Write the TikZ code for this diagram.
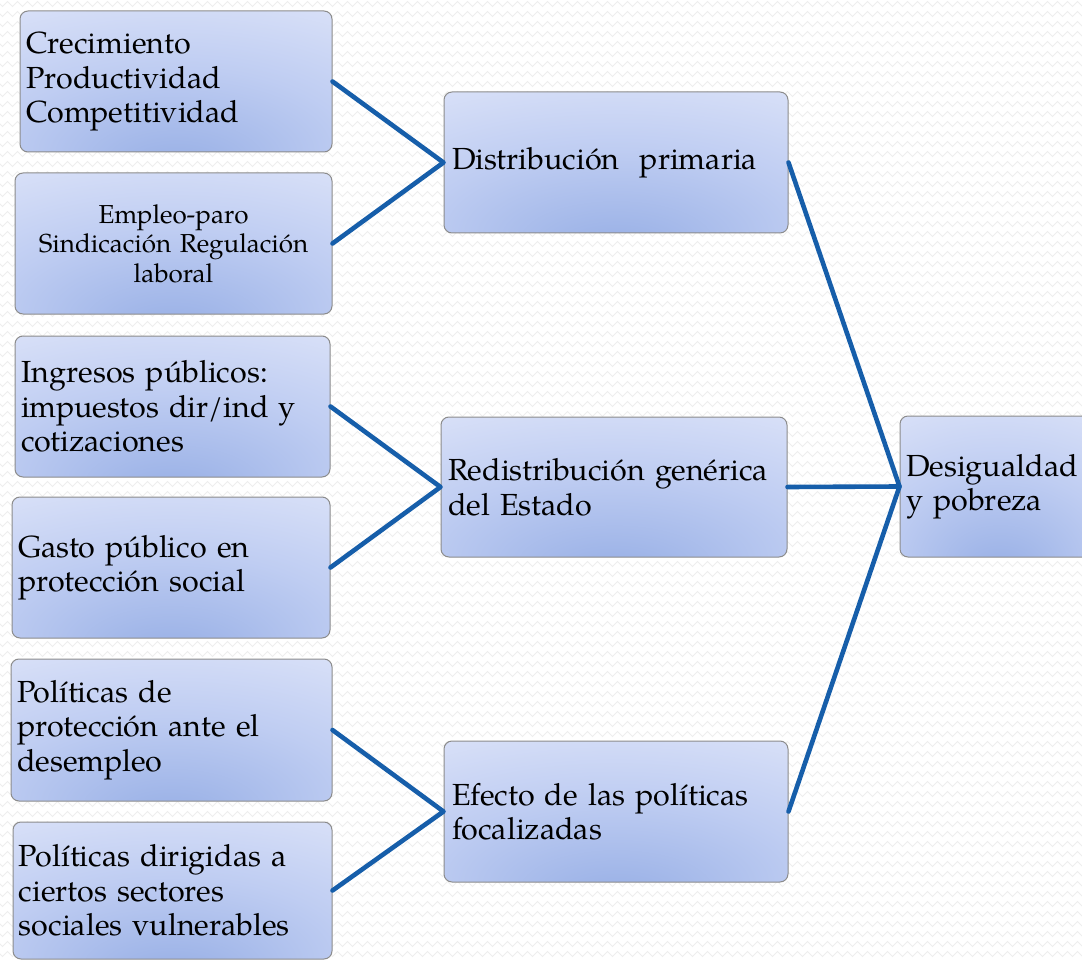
\documentclass[tikz,border=0pt]{standalone}
\usepackage{fontspec}
\setmainfont{TeX Gyre Pagella}
\usetikzlibrary{decorations.pathmorphing}
\definecolor{connblue}{HTML}{165EAA}
\definecolor{boxborder}{HTML}{8C8C8C}
\definecolor{shadeD}{HTML}{96AEE5}
\definecolor{shadeM}{HTML}{BFCDF2}
\definecolor{shadeL}{HTML}{E8ECFB}
\definecolor{zig}{HTML}{EEEEEE}
\pgfdeclareradialshading{boxshade}{\pgfpoint{0bp}{-32bp}}{%
  color(0bp)=(shadeD); color(28bp)=(shadeM); color(62bp)=(shadeL); color(100bp)=(shadeL)}
\tikzset{
  box/.style={draw=boxborder, line width=1pt, rounded corners=8pt, shading=boxshade,
    inner xsep=6pt, inner ysep=0pt, align=left,
    font=\fontsize{30.5}{34.5}\selectfont},
  smallbox/.style={box, align=center, font=\fontsize{26}{29.5}\selectfont},
  conn/.style={draw=connblue, line width=4.6pt, line cap=round, line join=round},
  bgzig/.style={draw=zig, line width=0.9pt, decorate,
    decoration={zigzag, segment length=10pt, amplitude=2.5pt}}
}
\begin{document}
\begin{tikzpicture}[x=1pt, y=-1pt]
\useasboundingbox (0,0) rectangle (1082,960);
\clip (0,0) rectangle (1082,960);
\fill[white] (0,0) rectangle (1082,960);
\foreach \r in {0,...,96} {\path[bgzig] (-5,\r*10+4) -- (1090,\r*10+4);}

\node[box, minimum width=312pt, minimum height=141pt, text width=300pt] (b1) at (176,81.5)
  {Crecimiento\\Productividad\\Competitividad};
\node[smallbox, minimum width=317pt, minimum height=141pt, text width=305pt] (b2) at (173.5,243.5)
  {Empleo-paro\\Sindicación Regulación\\laboral};
\node[box, minimum width=315pt, minimum height=141pt, text width=303pt] (b3) at (172.5,406.5)
  {Ingresos públicos:\\impuestos dir/ind y\\cotizaciones};
\node[box, minimum width=318pt, minimum height=141pt, text width=306pt] (b4) at (171,567.5)
  {Gasto público en\\protección social};
\node[box, minimum width=321pt, minimum height=142pt, text width=309pt] (b5) at (171.5,730)
  {Políticas de\\protección ante el\\desempleo};
\node[box, minimum width=319pt, minimum height=137pt, text width=307pt] (b6) at (172.5,890.5)
  {Políticas dirigidas a\\ciertos sectores\\sociales vulnerables};

\node[box, inner xsep=8pt, minimum width=344pt, minimum height=141pt, text width=328pt] (m1) at (616,162.5)
  {Distribución\ \ primaria};
\node[box, inner xsep=7pt, minimum width=346pt, minimum height=140pt, text width=332pt] (m2) at (614,487)
  {Redistribución genérica\\del Estado};
\node[box, inner xsep=8pt, minimum width=344pt, minimum height=141pt, text width=328pt] (m3) at (616,811.5)
  {Efecto de las políticas\\focalizadas};

\node[box, minimum width=200pt, minimum height=141pt, text width=188pt] (r) at (1000,486.5)
  {Desigualdad\\y pobreza};

\draw[conn] (b1.east) -- (m1.west) -- (b2.east);
\draw[conn] (b3.east) -- (m2.west) -- (b4.east);
\draw[conn] (b5.east) -- (m3.west) -- (b6.east);
\draw[conn] (m1.east) -- (r.west) -- (m3.east);
\draw[conn] (m2.east) -- (r.west);
\end{tikzpicture}
\end{document}
